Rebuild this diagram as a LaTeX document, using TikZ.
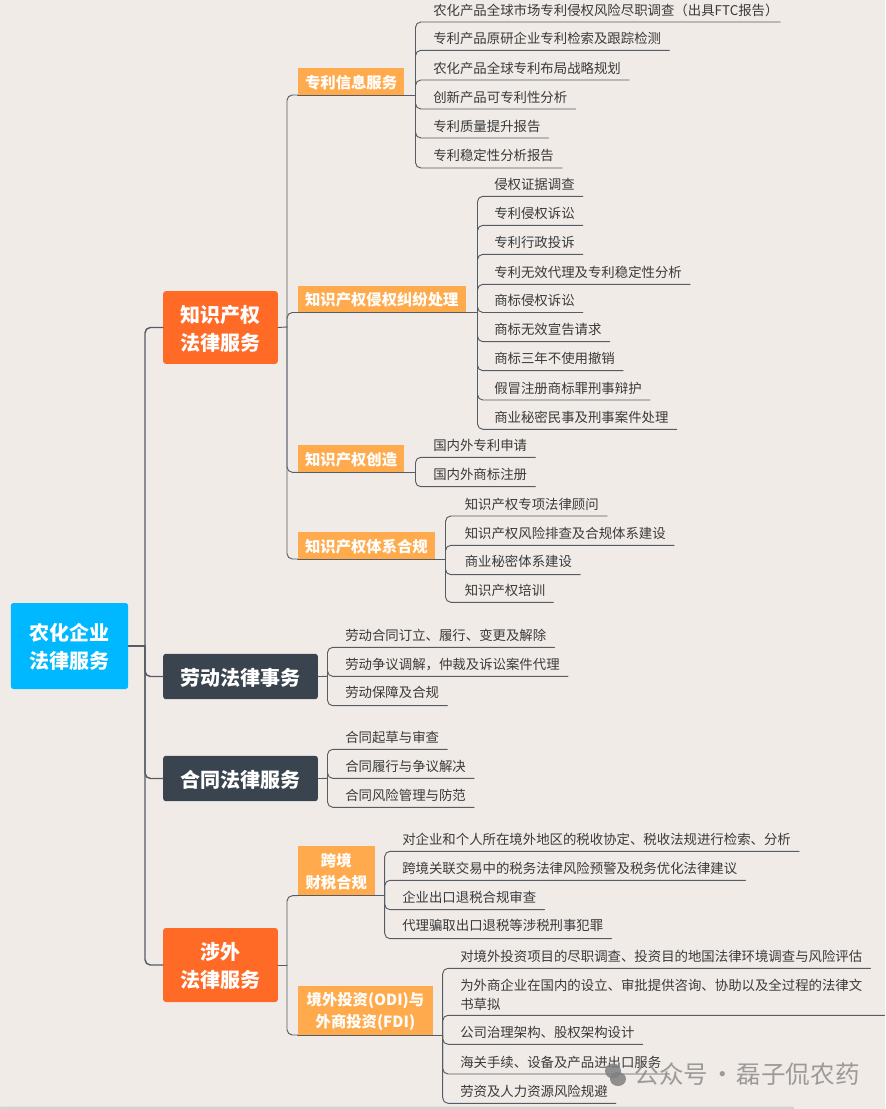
\documentclass[tikz,border=0pt]{standalone}
\usepackage{fontspec}
\setmainfont{Noto Sans CJK SC}
\definecolor{paper}{HTML}{F0EBE7}
\definecolor{rootblue}{HTML}{00B8FF}
\definecolor{mainorange}{HTML}{FF6A26}
\definecolor{maindark}{HTML}{3A444F}
\definecolor{subamber}{HTML}{FFAB4D}
\definecolor{linegray}{HTML}{565C64}
\definecolor{textgray}{HTML}{3A3A3A}
\tikzset{
    rootbox/.style={fill=rootblue,text=white,rounded corners=2pt,inner xsep=14pt,inner ysep=0pt,minimum height=64.5pt,text depth=0pt,align=center,font=\fontsize{15}{20.5}\selectfont\bfseries},
    mainbox/.style={text=white,rounded corners=2pt,inner xsep=13pt,inner ysep=0pt,text depth=0pt,align=center,font=\fontsize{15}{21}\selectfont\bfseries},
    subbox/.style={fill=subamber,text=white,anchor=south west,inner xsep=5.5pt,inner ysep=0pt,minimum height=20pt,text depth=0pt,align=center,font=\fontsize{11.5}{16.5}\selectfont\bfseries},
    leaf/.style={anchor=south west,text=textgray,inner xsep=6pt,inner ysep=0pt,minimum height=15.75pt,text height=7.6pt,text depth=1.6pt,font=\fontsize{10.05}{14.25}\selectfont},
    leafup/.style={minimum height=17.25pt},
    trunk/.style={draw=linegray,line width=1.1pt,rounded corners=4pt},
    branch/.style={draw=linegray,line width=0.7pt,rounded corners=4pt}
}
\begin{document}
\begin{tikzpicture}[x=0.75pt,y=-0.75pt,line cap=round,line join=round]
    \useasboundingbox (0,0) rectangle (885,1109);
    \fill[paper] (0,0) rectangle (885,1109);
    \fill[gray!35,rounded corners=1pt] (0,1106.5) rectangle (794,1112);

    \coordinate (J0) at (145,646);
    \coordinate (J1) at (287,327);
    \coordinate (J4) at (287,965);
    \coordinate (JA) at (415.5,95);
    \coordinate (JB) at (477.5,312.5);
    \coordinate (JC) at (415.5,472.3);
    \coordinate (JD) at (445.5,559);
    \coordinate (JE) at (327.5,676.4);
    \coordinate (JF) at (327.5,778.4);
    \coordinate (JG) at (384.7,895.7);
    \coordinate (JH) at (442.7,1035);

    \node[rootbox] (root) at (69.5,646) {农化企业\\法律服务};
    \node[mainbox,fill=mainorange,minimum height=54.5pt] (ipmain) at (220.5,327.5) {知识产权\\法律服务};
    \node[mainbox,fill=maindark,minimum height=34pt] (labor) at (240.5,676.5) {劳动法律事务};
    \node[mainbox,fill=maindark,minimum height=34pt] (contract) at (240.5,778.5) {合同法律服务};
    \node[mainbox,fill=mainorange,minimum height=55.5pt] (foreign) at (220.5,965) {涉外\\法律服务};

    \node[subbox] (subA) at (297.5,95) {专利信息服务};
    \node[subbox] (subB) at (297.5,312.5) {知识产权侵权纠纷处理};
    \node[subbox] (subC) at (297.5,472.3) {知识产权创造};
    \node[subbox] (subD) at (297.5,559) {知识产权体系合规};
    \node[subbox,minimum height=36.75pt,minimum width=57.75pt] (subG) at (297.5,895.7) {跨境\\财税合规};
    \node[subbox,minimum height=36.75pt,minimum width=101.5pt] (subH) at (297.5,1035) {境外投资(ODI)与\\外商投资(FDI)};

    \node[leaf] (A1) at (425,22) {农化产品全球市场专利侵权风险尽职调查（出具FTC报告）\kern-5pt};
    \node[leaf] (A2) at (425,50.3) {专利产品原研企业专利检索及跟踪检测};
    \node[leaf] (A3) at (425,80) {农化产品全球专利布局战略规划};
    \node[leaf] (A4) at (425,109) {创新产品可专利性分析};
    \node[leaf] (A5) at (425,138) {专利质量提升报告};
    \node[leaf,leafup] (A6) at (425,168) {专利稳定性分析报告};

    \node[leaf] (B1) at (486,196.3) {侵权证据调查};
    \node[leaf] (B2) at (486,225.3) {专利侵权诉讼};
    \node[leaf] (B3) at (486,254.3) {专利行政投诉};
    \node[leaf] (B4) at (486,284.3) {专利无效代理及专利稳定性分析};
    \node[leaf] (B5) at (486,312.5) {商标侵权诉讼};
    \node[leaf] (B6) at (486,341.7) {商标无效宣告请求};
    \node[leaf] (B7) at (486,370.7) {商标三年不使用撤销};
    \node[leaf] (B8) at (486,400) {假冒注册商标罪刑事辩护};
    \node[leaf] (B9) at (486,429.3) {商业秘密民事及刑事案件处理};

    \node[leaf] (C1) at (425,457.3) {国内外专利申请};
    \node[leaf] (C2) at (425,486.7) {国内外商标注册};

    \node[leaf] (D1) at (456.5,516) {知识产权专项法律顾问};
    \node[leaf] (D2) at (456.5,545.3) {知识产权风险排查及合规体系建设};
    \node[leaf,leafup] (D3) at (456.5,574.7) {商业秘密体系建设};
    \node[leaf] (D4) at (456.5,602.3) {知识产权培训};

    \node[leaf] (E1) at (337,647.3) {劳动合同订立、履行、变更及解除};
    \node[leaf] (E2) at (337,676.4) {劳动争议调解，仲裁及诉讼案件代理};
    \node[leaf,leafup] (E3) at (337,705.7) {劳动保障及合规};

    \node[leaf] (F1) at (337,749.3) {合同起草与审查};
    \node[leaf] (F2) at (337,778.4) {合同履行与争议解决};
    \node[leaf] (F3) at (337,807.3) {合同风险管理与防范};

    \node[leaf] (G1) at (394,851.3) {对企业和个人所在境外地区的税收协定、税收法规进行检索、分析};
    \node[leaf] (G2) at (394,880.3) {跨境关联交易中的税务法律风险预警及税务优化法律建议};
    \node[leaf] (G3) at (394,909.7) {企业出口退税合规审查};
    \node[leaf,leafup] (G4) at (394,938.7) {代理骗取出口退税等涉税刑事犯罪};

    \node[leaf] (H1) at (452,968.3) {对境外投资项目的尽职调查、投资目的地国法律环境调查与风险评估};
    \node[leaf,minimum height=0pt,inner ysep=2.4pt,text width=312pt,text depth=15.85pt,align=left] (H2) at (452,1015.3) {为外商企业在国内的设立、审批提供咨询、协助以及全过程的法律文\\书草拟};
    \node[leaf] (H3) at (452,1044.3) {公司治理架构、股权架构设计};
    \node[leaf] (H4) at (452,1074) {海关手续、设备及产品进出口服务};
    \node[leaf] (H5) at (452,1103.3) {劳资及人力资源风险规避};

    \draw[trunk] (root.east)--(J0);
    \draw[trunk] (J0) |- (ipmain.west);
    \draw[trunk] (J0) |- (labor.west);
    \draw[trunk] (J0) |- (contract.west);
    \draw[trunk] (J0) |- (foreign.west);

    \draw[branch] (ipmain.east)--(J1);
    \draw[branch] (J1) |- (subA.south west);
    \draw[branch] (J1) |- (subB.south west);
    \draw[branch] (J1) |- (subC.south west);
    \draw[branch] (J1) |- (subD.south west);
    \draw[branch] (foreign.east)--(J4);
    \draw[branch] (J4) |- (subG.south west);
    \draw[branch] (J4) |- (subH.south west);

    \draw[branch] (subA.south west)--(JA);
    \draw[branch] (subB.south west)--(JB);
    \draw[branch] (subC.south west)--(JC);
    \draw[branch] (subD.south west)--(JD);
    \draw[branch] (labor.east)--(JE);
    \draw[branch] (contract.east)--(JF);
    \draw[branch] (subG.south west)--(JG);
    \draw[branch] (subH.south west)--(JH);

    \foreach \i in {1,...,6} \draw[branch] (JA) |- (A\i.south east);
    \foreach \i in {1,...,9} \draw[branch] (JB) |- (B\i.south east);
    \foreach \i in {1,2} \draw[branch] (JC) |- (C\i.south east);
    \foreach \i in {1,...,4} \draw[branch] (JD) |- (D\i.south east);
    \foreach \i in {1,...,3} \draw[branch] (JE) |- (E\i.south east);
    \foreach \i in {1,...,3} \draw[branch] (JF) |- (F\i.south east);
    \foreach \i in {1,...,4} \draw[branch] (JG) |- (G\i.south east);
    \foreach \i in {1,...,5} \draw[branch] (JH) |- (H\i.south east);

    \fill[gray,opacity=0.85] (613,1071) ellipse (8 and 7.5);
    \fill[gray,opacity=0.85] (618,1079) ellipse (8 and 7);
    \node[anchor=west,text=gray,opacity=0.75,inner sep=0pt,font=\fontsize{18.4}{20}\selectfont] (mark) at (634.5,1074) {公众号\hspace{1.5pt}·\hspace{1.5pt}磊子侃农药};
\end{tikzpicture}
\end{document}
